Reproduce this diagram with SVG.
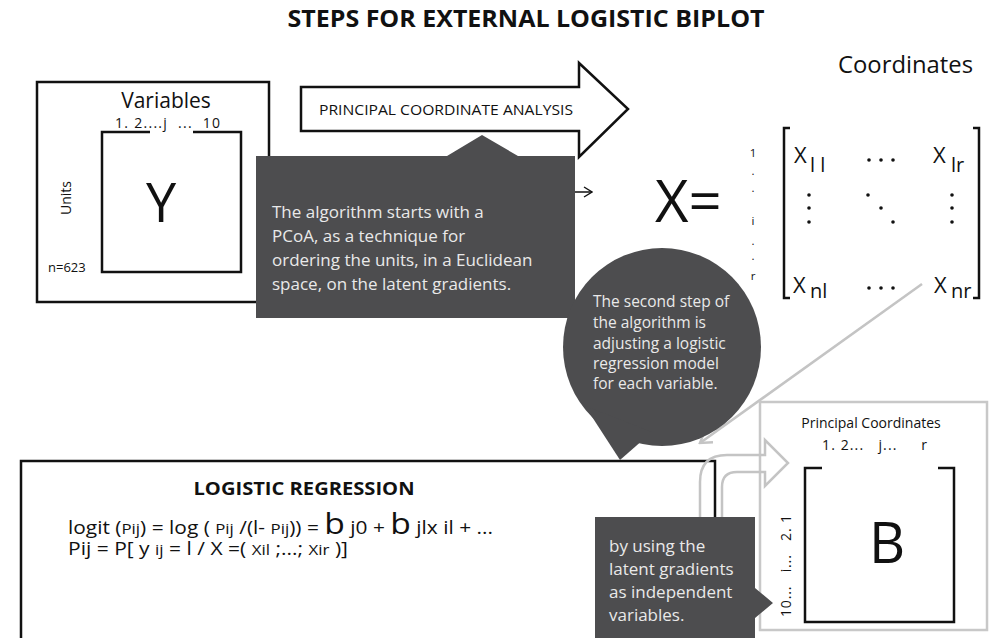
<svg xmlns="http://www.w3.org/2000/svg" width="994" height="638" viewBox="0 0 994 638">
  <style>
    text { font-family: "Open Sans", "Noto Sans", "DejaVu Sans", sans-serif; fill: #111; }
    .box { fill: #fff; stroke: #111; stroke-width: 2.5; }
    .bracket { fill: none; stroke: #111; stroke-width: 2.5; }
    .dark { fill: #4d4d4f; }
    .note { fill: #e9e9e9; }
    .grey { fill: none; stroke: #c4c4c4; stroke-width: 2.5; }
    .dot { fill: #111; }
    .rows { fill: #222; font-size: 11.5px; }
  </style>
  <defs>
    <marker id="headBlack" viewBox="0 0 10 12" refX="9" refY="6" markerWidth="10" markerHeight="12" markerUnits="userSpaceOnUse" orient="auto">
      <path d="M1,1 L9,6 L1,11" fill="none" stroke="#111" stroke-width="1.4"/>
    </marker>
    <marker id="headGrey" viewBox="0 0 14 16" refX="12" refY="8" markerWidth="14" markerHeight="16" markerUnits="userSpaceOnUse" orient="auto">
      <path d="M1,1 L12,8 L1,15" fill="none" stroke="#c4c4c4" stroke-width="2.5"/>
    </marker>
  </defs>

  <rect width="994" height="638" fill="#fff"/>

  <!-- title -->
  <text x="526" y="27" font-size="23.5" font-weight="bold" text-anchor="middle" textLength="477" lengthAdjust="spacingAndGlyphs">STEPS FOR EXTERNAL LOGISTIC BIPLOT</text>

  <!-- connectors -->
  <g id="connectors">
    <line x1="262" y1="192" x2="592" y2="192" stroke="#111" stroke-width="1.4" marker-end="url(#headBlack)"/>
    <line x1="922" y1="284" x2="700" y2="443" class="grey" marker-end="url(#headGrey)"/>
  </g>

  <!-- data matrix Y -->
  <g id="matrix-y">
    <rect x="37" y="82" width="232" height="220" class="box"/>
    <text x="166" y="108" font-size="21" text-anchor="middle">Variables</text>
    <text x="115" y="128" font-size="14" textLength="105" xml:space="preserve">1. 2....j  ...  10</text>
    <path d="M150,132 H102 V272 H241 V132 H193" class="bracket"/>
    <text x="161" y="222" font-size="54" text-anchor="middle">Y</text>
    <text transform="translate(71,198) rotate(-90)" font-size="14" text-anchor="middle">Units</text>
    <text x="48" y="272" font-size="13">n=623</text>
  </g>

  <!-- PCoA block arrow -->
  <g id="pcoa-arrow">
    <path d="M301,87 H579 V63 L628,109 L579,157 V131 H301 Z" fill="#fff" stroke="#111" stroke-width="2.5" stroke-linejoin="miter"/>
    <text x="319" y="115" font-size="14.5" textLength="254" lengthAdjust="spacingAndGlyphs">PRINCIPAL COORDINATE ANALYSIS</text>
  </g>

  <!-- first note -->
  <g id="note-pcoa">
    <path d="M256,156 H447 L482,135 L518,156 H575 V318 H256 Z" class="dark"/>
    <text class="note" font-size="17">
      <tspan x="272" y="218">The algorithm starts with a</tspan>
      <tspan x="272" y="242">PCoA, as a technique for</tspan>
      <tspan x="272" y="266">ordering the units, in a Euclidean</tspan>
      <tspan x="272" y="290">space, on the latent gradients.</tspan>
    </text>
  </g>

  <!-- coordinates matrix X -->
  <g id="matrix-x">
    <text x="838" y="73" font-size="23.5" textLength="135" lengthAdjust="spacingAndGlyphs">Coordinates</text>
    <text x="655" y="222" font-size="58">X=</text>
    <g class="rows" text-anchor="middle">
      <text x="753" y="157">1</text>
      <text x="753" y="175">.</text>
      <text x="753" y="192">.</text>
      <text x="753" y="225">i</text>
      <text x="753" y="245">.</text>
      <text x="753" y="260">.</text>
      <text x="753" y="280">r</text>
    </g>
    <path d="M790,128 H784 V298 H790" class="bracket"/>
    <path d="M973,128 H979 V298 H973" class="bracket"/>
    <text x="794" y="163" font-size="22">X<tspan x="810" y="172" font-size="20">l l</tspan></text>
    <text x="933" y="163" font-size="22">X<tspan x="951" y="172" font-size="20">lr</tspan></text>
    <text x="793" y="293" font-size="22">X<tspan x="810" y="298" font-size="20">nl</tspan></text>
    <text x="934" y="293" font-size="22">X<tspan x="951" y="298" font-size="20">nr</tspan></text>
    <circle cx="869" cy="160" r="1.8" class="dot"/>
    <circle cx="881" cy="160" r="1.8" class="dot"/>
    <circle cx="893" cy="160" r="1.8" class="dot"/>
    <circle cx="869" cy="288" r="1.8" class="dot"/>
    <circle cx="881" cy="288" r="1.8" class="dot"/>
    <circle cx="893" cy="288" r="1.8" class="dot"/>
    <circle cx="809" cy="195" r="1.8" class="dot"/>
    <circle cx="809" cy="208" r="1.8" class="dot"/>
    <circle cx="809" cy="222" r="1.8" class="dot"/>
    <circle cx="868" cy="195" r="1.8" class="dot"/>
    <circle cx="881" cy="208" r="1.8" class="dot"/>
    <circle cx="893" cy="222" r="1.8" class="dot"/>
    <circle cx="952" cy="195" r="1.8" class="dot"/>
    <circle cx="952" cy="208" r="1.8" class="dot"/>
    <circle cx="952" cy="222" r="1.8" class="dot"/>
  </g>

  <!-- logistic regression panel -->
  <g id="logistic-regression">
    <rect x="21" y="461" width="694" height="200" class="box"/>
    <text x="304" y="495" font-size="17.5" font-weight="bold" text-anchor="middle" textLength="221" lengthAdjust="spacingAndGlyphs">LOGISTIC REGRESSION</text>
    <text x="68" y="534" font-size="18" textLength="425" lengthAdjust="spacingAndGlyphs">logit  (<tspan font-size="14.5">Pij</tspan>) = log ( <tspan font-size="14.5">Pij</tspan> /(l- <tspan font-size="14.5">Pij</tspan>)) = <tspan font-size="29">b</tspan> j0 + <tspan font-size="29">b</tspan> jlx il + ...</text>
    <text x="68" y="555" font-size="18" textLength="280" lengthAdjust="spacingAndGlyphs">Pij = P[ y <tspan font-size="14.5">ij</tspan> = l / X =( <tspan font-size="14.5">Xil</tspan> ;...; <tspan font-size="14.5">Xir</tspan> )]</text>
  </g>

  <!-- second note (speech bubble) -->
  <g id="note-regression">
    <circle cx="662" cy="347" r="99" class="dark"/>
    <path d="M585,406 L620,460 L652,432 Z" class="dark"/>
    <text class="note" font-size="15.5">
      <tspan x="593" y="307">The second step of</tspan>
      <tspan x="593" y="328">the algorithm is</tspan>
      <tspan x="593" y="349">adjusting a logistic</tspan>
      <tspan x="593" y="369">regression model</tspan>
      <tspan x="593" y="389">for each variable.</tspan>
    </text>
  </g>

  <!-- coefficient matrix B -->
  <g id="matrix-b">
    <rect x="760" y="402" width="227" height="228" fill="#fff" stroke="#c8c8c8" stroke-width="2.5"/>
    <text x="871" y="428" font-size="14" text-anchor="middle">Principal Coordinates</text>
    <text x="822" y="450" font-size="14" textLength="105" xml:space="preserve">1. 2...   j...     r</text>
    <path d="M822,468 H805 V622 H954 V468 H938" class="bracket"/>
    <text x="887" y="563" font-size="56" text-anchor="middle">B</text>
    <text transform="translate(791,566) rotate(-90)" font-size="14" text-anchor="middle" textLength="102" xml:space="preserve">10...   i...   2. 1</text>
  </g>

  <!-- curved block arrow into B -->
  <g id="curved-arrow">
    <path d="M700,540 V482 Q700,455 727,455 H765 V440 L788,463 L765,486 V472 H737 Q722,472 722,487 V540" class="grey" stroke-width="2.2" stroke-linejoin="miter"/>
  </g>

  <!-- third note -->
  <g id="note-gradients">
    <path d="M595,517 H755 V588 L773,603 L755,618 V640 H595 Z" class="dark"/>
    <text class="note" font-size="17">
      <tspan x="609" y="552">by using the</tspan>
      <tspan x="609" y="575">latent gradients</tspan>
      <tspan x="609" y="598">as independent</tspan>
      <tspan x="609" y="621">variables.</tspan>
    </text>
  </g>
</svg>
